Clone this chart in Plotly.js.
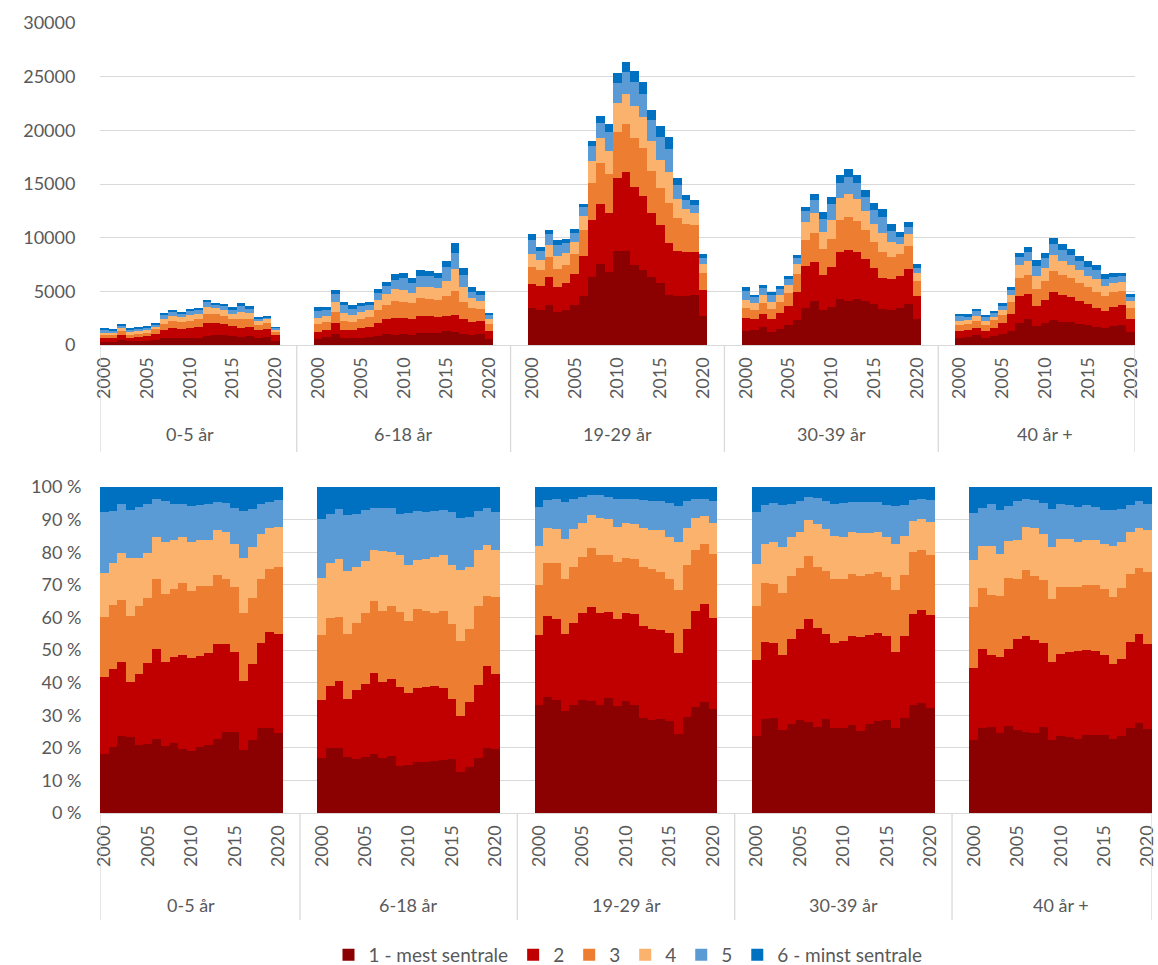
<!DOCTYPE html>
<html>
<head>
<meta charset="utf-8">
<script src="https://cdn.plot.ly/plotly-3.0.1.min.js"></script>
<style>html,body{margin:0;padding:0;background:#fff;}#chart{width:1158px;height:965px;}</style>
</head>
<body>
<div id="chart"></div>
<script>
// ---------- DATA ----------
const years = [2000,2001,2002,2003,2004,2005,2006,2007,2008,2009,2010,2011,2012,2013,2014,2015,2016,2017,2018,2019,2020];
const tickYears = [2000,2005,2010,2015,2020];
const groups = ['0-5 år','6-18 år','19-29 år','30-39 år','40 år +'];
const categories = ['1 - mest sentrale','2','3','4','5','6 - minst sentrale'];

// Totals (top panel bar heights)
const total_0_5   = [1560,1460,1930,1560,1680,1740,2020,2950,3260,3080,3350,3420,4190,3940,3820,3510,3910,3630,2640,2730,1650];
const total_6_18  = [3540,3540,5090,4040,3700,3940,4010,5190,5900,6580,6740,6270,6990,6930,6740,7830,9470,7170,5370,5030,3010];
const total_19_29 = [10370,9100,10720,9810,9900,10810,13170,19010,21360,20620,25340,26400,25530,24500,21900,20370,19410,15560,14010,13540,8480];
const total_30_39 = [5430,4690,5620,4910,5530,6460,8360,12890,14070,12420,13790,15870,16430,15810,14440,13260,12670,11250,10530,11430,7520];
const total_40    = [2890,2860,3350,2800,3170,3880,5370,8540,9100,7890,8570,9970,9440,8910,8320,7830,7480,6640,6740,6740,4720];

// Cumulative share (%) at the top of categories 1..5 (category 6 tops at 100 %)
const cum_0_5_1 = [18.1,20.2,23.5,23.2,20.8,21.1,22.6,20.6,21.4,19.7,19.0,20.1,20.8,22.6,24.7,24.7,19.3,22.4,26.2,26.2,24.4];
const cum_0_5_2 = [41.6,44.1,46.2,40.3,42.6,45.9,50.4,46.2,48.0,48.4,47.4,48.3,49.0,51.9,51.9,49.3,40.5,45.7,52.2,55.5,54.9];
const cum_0_5_3 = [60.1,63.7,65.2,60.4,63.4,65.8,71.7,67.1,68.6,70.7,68.0,69.7,69.7,73.1,71.9,69.2,61.3,66.0,71.7,74.9,75.6];
const cum_0_5_4 = [73.7,76.8,79.8,78.3,78.3,79.8,84.6,83.2,83.6,84.6,83.0,83.7,83.7,86.8,86.2,82.5,78.3,81.5,85.6,87.3,87.6];
const cum_0_5_5 = [92.2,92.5,94.9,92.9,94.0,94.8,96.3,95.8,94.9,94.7,94.1,94.4,94.7,95.4,95.1,93.6,92.6,93.1,94.9,95.5,96.1];

const cum_6_18_1 = [16.8,19.8,19.8,17.2,16.6,17.2,18.0,16.8,17.6,14.5,14.7,15.5,15.5,16.0,16.3,16.5,12.6,14.2,16.9,19.9,19.5];
const cum_6_18_2 = [34.7,39.1,40.4,35.0,37.7,39.6,42.8,40.2,41.0,38.5,36.8,38.2,38.5,38.9,38.2,35.0,29.9,34.2,39.3,45.0,42.5];
const cum_6_18_3 = [54.6,59.9,60.1,55.0,58.2,61.3,64.9,62.0,63.4,61.7,58.9,62.6,62.0,61.3,61.9,58.0,52.9,56.4,63.4,66.5,66.2];
const cum_6_18_4 = [72.2,76.7,77.9,74.1,75.6,77.3,80.6,80.3,80.1,79.1,76.1,77.6,77.9,78.5,79.1,76.1,74.4,75.6,80.7,82.1,80.6];
const cum_6_18_5 = [90.2,91.7,93.4,91.4,91.7,92.8,93.5,93.7,93.5,91.7,92.1,92.5,92.3,92.6,93.0,92.4,90.5,90.8,92.5,93.5,92.2];

const cum_19_29_1 = [33.1,35.6,34.7,31.4,33.1,34.7,34.4,33.1,35.3,32.9,34.4,33.1,29.2,28.6,28.9,28.3,24.1,29.4,32.4,34.2,31.9];
const cum_19_29_2 = [54.7,60.4,59.5,55.0,58.3,61.3,63.2,61.3,61.7,59.5,61.3,61.0,57.5,56.5,56.2,55.1,49.1,56.5,62.0,64.0,59.9];
const cum_19_29_3 = [69.8,76.8,76.8,71.8,75.6,78.5,81.3,79.2,79.2,77.1,78.2,77.9,75.6,74.9,74.0,71.9,68.4,76.1,80.7,82.5,79.4];
const cum_19_29_4 = [82.0,87.3,87.0,84.2,87.0,88.9,91.4,90.4,90.1,87.7,88.9,88.5,87.3,86.7,86.7,84.6,83.1,87.3,90.6,91.0,88.9];
const cum_19_29_5 = [94.0,96.1,96.4,95.4,96.2,96.8,97.4,97.4,97.0,96.3,96.2,96.4,95.9,95.6,95.8,95.0,94.2,95.8,96.2,96.4,95.7];

const cum_30_39_1 = [23.7,28.9,29.2,25.4,27.4,28.6,28.0,26.5,28.9,26.0,26.0,27.0,25.1,27.4,28.3,28.6,26.2,29.2,33.0,33.7,32.2];
const cum_30_39_2 = [46.8,52.6,52.0,48.5,53.5,56.5,59.5,56.9,55.0,52.2,52.9,54.4,53.9,54.7,55.3,54.2,49.3,54.4,61.0,62.3,60.7];
const cum_30_39_3 = [63.5,70.5,70.1,67.5,72.8,75.3,78.8,75.6,74.1,71.7,71.9,73.4,72.8,73.3,74.0,72.3,68.4,72.9,80.2,80.7,79.1];
const cum_30_39_4 = [76.5,82.6,83.1,81.7,84.7,86.3,89.8,88.7,87.1,85.1,84.7,86.1,85.8,85.8,86.3,84.7,82.5,85.0,89.7,90.1,89.2];
const cum_30_39_5 = [92.2,94.4,95.2,94.5,94.9,95.8,97.0,96.7,95.8,94.8,95.0,95.3,95.5,95.3,95.4,94.6,94.1,94.6,96.0,96.3,96.0];

const cum_40_1 = [22.5,26.2,26.5,24.4,26.8,25.5,24.8,24.4,26.5,22.4,23.5,23.2,22.8,24.0,24.0,23.8,22.7,23.6,26.2,27.7,25.7];
const cum_40_2 = [44.4,50.4,48.4,47.9,50.4,53.4,54.2,53.2,52.0,46.2,48.8,49.4,49.7,50.1,49.6,48.5,45.6,47.3,52.6,55.0,51.7];
const cum_40_3 = [63.2,68.9,66.8,66.5,72.2,71.9,74.6,72.8,71.5,65.6,69.2,69.2,69.3,70.0,69.8,68.6,66.2,68.9,73.4,75.2,74.0];
const cum_40_4 = [77.6,81.9,81.9,79.6,83.3,83.7,87.6,87.3,85.6,81.6,83.9,83.9,83.2,83.8,83.7,82.6,82.0,83.1,86.2,87.3,86.8];
const cum_40_5 = [92.0,93.7,94.7,92.9,94.1,95.6,96.2,95.9,95.0,93.3,94.7,94.4,94.0,94.4,93.9,92.9,93.0,93.3,94.5,95.8,94.8];

// ---------- STYLE ----------
const colors = ['#8B0000','#C00000','#ED7D31','#FBB26C','#5B9BD5','#0070C0'];
const W = 1158, H = 965;
const FONT = 'Lato, "Open Sans", sans-serif';
const TXT = '#595959';
const GRID = '#d9d9d9';

const totals = [total_0_5,total_6_18,total_19_29,total_30_39,total_40];
const cums = [
  [cum_0_5_1,cum_0_5_2,cum_0_5_3,cum_0_5_4,cum_0_5_5],
  [cum_6_18_1,cum_6_18_2,cum_6_18_3,cum_6_18_4,cum_6_18_5],
  [cum_19_29_1,cum_19_29_2,cum_19_29_3,cum_19_29_4,cum_19_29_5],
  [cum_30_39_1,cum_30_39_2,cum_30_39_3,cum_30_39_4,cum_30_39_5],
  [cum_40_1,cum_40_2,cum_40_3,cum_40_4,cum_40_5]
];
const STEP = years.length + 4; // 21 years + 4 empty slots between groups
const pos = (g,i) => g*STEP + i;

function shareOf(g,k,i){
  const c = cums[g];
  const top = k < 5 ? c[k][i] : 100;
  const bot = k > 0 ? c[k-1][i] : 0;
  return top - bot;
}

const traces = [];
categories.forEach((name,k) => {
  const xs = [], yTop = [], cd = [];
  groups.forEach((gname,g) => {
    years.forEach((yr,i) => {
      xs.push(pos(g,i));
      yTop.push(totals[g][i]*shareOf(g,k,i)/100);
      cd.push(gname + ' ' + yr);
    });
  });
  traces.push({type:'bar', name:name, x:xs, y:yTop, xaxis:'x', yaxis:'y',
    marker:{color:colors[k], line:{width:0}}, legendgroup:name, showlegend:true,
    customdata:cd, hovertemplate:'%{customdata}<br>'+name+': %{y:.0f}<extra></extra>'});
});
categories.forEach((name,k) => {
  const xs = [], yPct = [], cd = [];
  groups.forEach((gname,g) => {
    years.forEach((yr,i) => {
      xs.push(pos(g,i));
      yPct.push(shareOf(g,k,i));
      cd.push(gname + ' ' + yr);
    });
  });
  traces.push({type:'bar', name:name, x:xs, y:yPct, xaxis:'x2', yaxis:'y2',
    marker:{color:colors[k], line:{width:0}}, legendgroup:name, showlegend:false,
    customdata:cd, hovertemplate:'%{customdata}<br>'+name+': %{y:.1f} %<extra></extra>'});
});

const tickvals = [], ticktext = [];
groups.forEach((g,gi) => tickYears.forEach(y => { tickvals.push(pos(gi, years.indexOf(y))); ticktext.push(String(y)); }));

const xRange = [-0.5, pos(groups.length-1, years.length-1) + 0.5];
const bounds = [xRange[0]];
for (let g=1; g<groups.length; g++) bounds.push(pos(g,0) - 2.5);
bounds.push(xRange[1]);

const shapes = [];
const annotations = [];
const panels = [
  {xa:'x', axisY:345, lineEnd:452, labelY:434},
  {xa:'x2', axisY:813, lineEnd:920, labelY:905}
];
panels.forEach(p => {
  bounds.forEach(b => shapes.push({type:'line', xref:p.xa, yref:'paper', x0:b, x1:b,
    y0:1-p.axisY/H, y1:1-p.lineEnd/H, line:{color:GRID, width:1.3}}));
  groups.forEach((gname,g) => annotations.push({xref:p.xa, yref:'paper', x:pos(g,10), y:1-p.labelY/H,
    text:gname, showarrow:false, xanchor:'center', yanchor:'middle', font:{family:FONT, size:18, color:TXT}}));
});

const xCommon = {range:xRange, tickmode:'array', tickvals:tickvals, ticktext:ticktext, tickangle:-90,
  showgrid:false, zeroline:false, showline:true, linecolor:GRID, linewidth:1.3, automargin:false,
  ticks:'outside', ticklen:4, tickcolor:'rgba(0,0,0,0)', tickfont:{family:FONT, size:18, color:TXT}, fixedrange:true};
const yCommon = {showgrid:true, gridcolor:GRID, gridwidth:1.3, zeroline:false, showline:false, automargin:false,
  ticks:'outside', tickcolor:'rgba(0,0,0,0)', tickfont:{family:FONT, size:18, color:TXT}, fixedrange:true};

const layout = {
  width:W, height:H, margin:{l:0,r:0,t:0,b:0, autoexpand:false}, paper_bgcolor:'#fff', plot_bgcolor:'#fff',
  barmode:'stack', bargap:0, font:{family:FONT, size:18, color:TXT},
  xaxis:Object.assign({}, xCommon, {domain:[100/W,1135/W], anchor:'y'}),
  yaxis:Object.assign({}, yCommon, {domain:[1-345/H,1-23/H], range:[0,30000], dtick:5000, tickformat:'d', ticklen:20, anchor:'x'}),
  xaxis2:Object.assign({}, xCommon, {domain:[100/W,1152/W], anchor:'y2'}),
  yaxis2:Object.assign({}, yCommon, {domain:[1-813/H,1-487/H], range:[0,100], dtick:10, ticksuffix:' %', ticklen:14, anchor:'x2'}),
  legend:{orientation:'h', xref:'container', yref:'container', x:628/W, xanchor:'center', y:1-955/H, yanchor:'middle', traceorder:'normal',
    font:{family:FONT, size:19, color:TXT}, itemwidth:30},
  shapes:shapes, annotations:annotations, showlegend:true
};

Plotly.newPlot('chart', traces, layout, {displayModeBar:false, staticPlot:false});
</script>
</body>
</html>
